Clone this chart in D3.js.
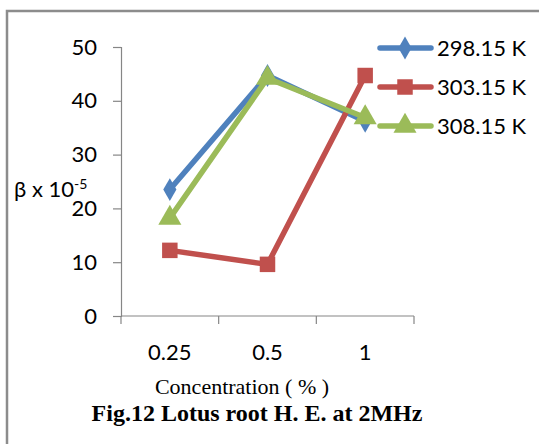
<!DOCTYPE html>
<html>
<head>
<meta charset="utf-8">
<script src="https://cdn.jsdelivr.net/npm/d3@7"></script>
<style>
  html, body { margin: 0; padding: 0; background: #fff; }
  svg { display: block; }
</style>
</head>
<body>
<div id="chart"></div>
<script>
// 数据
const categories = ["0.25", "0.5", "1"];
const seriesNames = ["298.15 K", "303.15 K", "308.15 K"];
const values298 = [23.5, 44.7, 36.2];
const values303 = [12.2, 9.6, 44.7];
const values308 = [18.2, 44.2, 36.9];
const yTicks = [0, 10, 20, 30, 40, 50];

const colors = ["#4f81bd", "#c0504d", "#9bbb59"];
const symbols = [d3.symbolDiamond, d3.symbolSquare, d3.symbolTriangle];
const symbolSizes = [150, 240, 230];

const W = 539, H = 444;
const svg = d3.select("#chart").append("svg").attr("width", W).attr("height", H);

// 外框
svg.append("path")
  .attr("d", "M7,444 L7,11 L539,11")
  .attr("fill", "none")
  .attr("stroke", "#8c8c8c")
  .attr("stroke-width", 2.5);

const x = d3.scaleBand().domain(categories).range([121, 414]);
const y = d3.scaleLinear().domain([0, 50]).range([316, 47]);

const axisFont = "Lato, 'Open Sans', sans-serif";
const axisSize = 22;

// y 轴
const yAxis = svg.append("g")
  .attr("transform", "translate(121,0)")
  .call(d3.axisLeft(y).tickValues(yTicks).tickSize(8).tickPadding(16));
yAxis.select(".domain").attr("stroke", "#868686").attr("stroke-width", 1.2);
yAxis.selectAll(".tick line").attr("stroke", "#868686").attr("stroke-width", 1.2);
yAxis.selectAll(".tick text").attr("font-family", axisFont).attr("font-size", axisSize).attr("fill", "#000");

// x 轴
const xAxisG = svg.append("g").attr("transform", "translate(0,316)");
xAxisG.append("line").attr("x1", 121).attr("x2", 414).attr("stroke", "#868686").attr("stroke-width", 1.2);
const xBounds = categories.map(c => x(c)).concat([x(categories[categories.length - 1]) + x.bandwidth()]);
xAxisG.selectAll("line.tk").data(xBounds).join("line")
  .attr("class", "tk")
  .attr("x1", d => d).attr("x2", d => d)
  .attr("y1", 0).attr("y2", 8)
  .attr("stroke", "#868686").attr("stroke-width", 1.2);
xAxisG.selectAll("text").data(categories).join("text")
  .attr("x", d => x(d) + x.bandwidth() / 2)
  .attr("y", 44)
  .attr("text-anchor", "middle")
  .attr("font-family", axisFont)
  .attr("font-size", axisSize)
  .text(d => d);

// y 轴标题
const yl = svg.append("text")
  .attr("x", 14).attr("y", 197)
  .attr("font-family", axisFont).attr("font-size", axisSize);
yl.append("tspan").text("β x 10");
yl.append("tspan").attr("dy", -8).attr("font-size", 14).text("-5");

// 折线
const allSeries = [values298, values303, values308];
const line = d3.line()
  .x((d, i) => x(categories[i]) + x.bandwidth() / 2)
  .y(d => y(d));

allSeries.forEach((vals, s) => {
  const g = svg.append("g");
  g.append("path")
    .datum(vals)
    .attr("d", line)
    .attr("fill", "none")
    .attr("stroke", colors[s])
    .attr("stroke-width", 5.5)
    .attr("stroke-linejoin", "round")
    .attr("stroke-linecap", "round");
  g.selectAll("path.mk").data(vals).join("path")
    .attr("class", "mk")
    .attr("d", d3.symbol().type(symbols[s]).size(symbolSizes[s]))
    .attr("transform", (d, i) => `translate(${x(categories[i]) + x.bandwidth() / 2},${y(d)})`)
    .attr("fill", colors[s]);
});

// 图例
const legend = svg.append("g");
seriesNames.forEach((name, s) => {
  const ly = 48 + s * 39;
  legend.append("line")
    .attr("x1", 380).attr("x2", 431).attr("y1", ly).attr("y2", ly)
    .attr("stroke", colors[s]).attr("stroke-width", 5.5).attr("stroke-linecap", "round");
  legend.append("path")
    .attr("d", d3.symbol().type(symbols[s]).size(symbolSizes[s]))
    .attr("transform", `translate(405,${ly})`)
    .attr("fill", colors[s]);
  legend.append("text")
    .attr("x", 437).attr("y", ly + 8)
    .attr("font-family", axisFont).attr("font-size", axisSize)
    .text(name);
});

// 标题
svg.append("text")
  .attr("x", 242).attr("y", 394)
  .attr("text-anchor", "middle")
  .attr("font-family", "'Liberation Serif', 'Times New Roman', serif")
  .attr("font-size", 22)
  .text("Concentration ( % )");
svg.append("text")
  .attr("x", 257).attr("y", 421)
  .attr("text-anchor", "middle")
  .attr("font-family", "'Liberation Serif', 'Times New Roman', serif")
  .attr("font-weight", "bold")
  .attr("font-size", 24)
  .text("Fig.12 Lotus root H. E. at 2MHz");
</script>
</body>
</html>
